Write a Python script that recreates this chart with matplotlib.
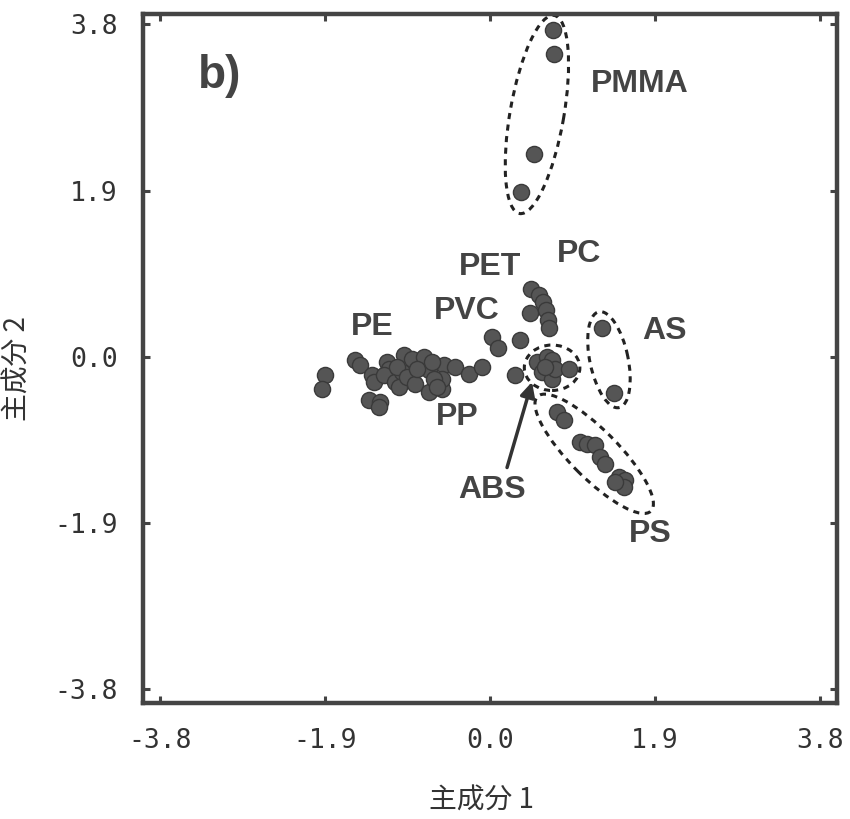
import matplotlib
matplotlib.use("Agg")
import matplotlib.pyplot as plt
from matplotlib.patches import Ellipse

plt.rcParams['font.family'] = ['Liberation Sans', 'Noto Sans CJK JP', 'DejaVu Sans']

# ---- data (principal component scores) ----
pmma_x = [0.727, 0.738, 0.507, 0.358]
pmma_y = [3.74, 3.46, 2.32, 1.88]

pc_x = [0.473, 0.565, 0.611, 0.646, 0.669, 0.680]
pc_y = [0.78, 0.71, 0.63, 0.54, 0.42, 0.33]

pet_x = [0.461]
pet_y = [0.50]

pvc_x = [0.023, 0.092, 0.346]
pvc_y = [0.23, 0.10, 0.19]

pe_x = [-1.557, -1.499, -1.903, -1.938, -1.361, -1.338, -1.188, -1.165, -0.992,
        -0.900, -0.761, -1.223, -1.096, -1.015, -1.050, -1.396, -1.269, -1.280,
        -1.073, -0.957]
pe_y = [-0.034, -0.092, -0.206, -0.367, -0.206, -0.287, -0.057, -0.138, 0.023,
        -0.023, 0.0, -0.206, -0.287, -0.172, -0.344, -0.493, -0.516, -0.573,
        -0.115, -0.229]

pp_x = [-0.865, -0.704, -0.554, -0.531, -0.554, -0.404, -0.242, -0.092, -0.704,
        -0.646, -0.842, -0.669, -0.611, 0.288]
pp_y = [-0.310, -0.401, -0.367, -0.092, -0.252, -0.115, -0.195, -0.115, -0.149,
        -0.252, -0.138, -0.057, -0.344, -0.206]

abs_x = [0.542, 0.657, 0.715, 0.600, 0.715, 0.750, 0.911, 0.634]
abs_y = [-0.057, 0.0, -0.034, -0.172, -0.252, -0.138, -0.138, -0.115]

as_x = [1.292, 1.430]
as_y = [0.333, -0.413]

ps_x = [0.773, 0.854, 1.038, 1.119, 1.211, 1.269, 1.326, 1.488, 1.557, 1.546, 1.442]
ps_y = [-0.631, -0.722, -0.975, -0.998, -1.009, -1.147, -1.227, -1.376, -1.411, -1.491, -1.433]

ticks = [-3.8, -1.9, 0.0, 1.9, 3.8]
tick_labels = ["-3.8", "-1.9", "0.0", "1.9", "3.8"]

labels = ["PMMA", "PC", "PET", "PVC", "PE", "AS", "PP", "ABS", "PS"]
label_x = [1.73, 1.03, 0.0, -0.265, -1.36, 2.01, -0.38, 0.023, 1.845]
label_y = [3.12, 1.18, 1.03, 0.52, 0.34, 0.29, -0.69, -1.525, -2.03]

# ---- figure ----
fig = plt.figure(figsize=(8.5, 8.19), dpi=100)
ax = fig.add_axes([0.168, 0.1416, 0.817, 0.8414])

all_x = pmma_x + pc_x + pet_x + pvc_x + pe_x + pp_x + abs_x + as_x + ps_x
all_y = pmma_y + pc_y + pet_y + pvc_y + pe_y + pp_y + abs_y + as_y + ps_y
ax.scatter(all_x, all_y, s=135, c='#555555', edgecolors='#3a3a3a',
           linewidths=1.0, zorder=3)

ell_style = dict(fill=False, edgecolor='#222222', linewidth=2.2,
                 linestyle=(0, (2.0, 1.8)), zorder=2)
ax.add_patch(Ellipse((0.54, 2.77), 2.3, 0.62, angle=80, **ell_style))
ax.add_patch(Ellipse((0.715, -0.126), 0.64, 0.52, angle=0, **ell_style))
ax.add_patch(Ellipse((1.37, -0.034), 1.12, 0.44, angle=102, **ell_style))
ax.add_patch(Ellipse((1.20, -1.11), 1.85, 0.55, angle=-45, **ell_style))

for t, x, y in zip(labels, label_x, label_y):
    ax.text(x, y, t, ha='center', va='center', fontsize=23, fontweight='bold',
            color='#444444', zorder=4)

ax.text(-3.11, 3.21, "b)", ha='center', va='center', fontsize=33,
        fontweight='bold', color='#444444')

ax.annotate("", xy=(0.484, -0.288), xytext=(0.196, -1.267),
            arrowprops=dict(arrowstyle='-|>', color='#333333', lw=2.5,
                            mutation_scale=22, shrinkA=0, shrinkB=0))

ax.set_xlim(-4.0, 4.0)
ax.set_ylim(-3.96, 3.92)
ax.set_xticks(ticks)
ax.set_yticks(ticks)
ax.set_xticklabels(tick_labels, family='DejaVu Sans Mono', fontsize=19, color='#333333')
ax.set_yticklabels(tick_labels, family='DejaVu Sans Mono', fontsize=19, color='#333333')
ax.tick_params(direction='in', length=5, width=2.2, color='#444444',
               top=True, right=True, pad=18)

for sp in ax.spines.values():
    sp.set_linewidth(3.2)
    sp.set_color('#444444')

ax.set_xlabel("主成分 1", family=['Noto Sans CJK JP', 'DejaVu Sans'],
              fontsize=20, color='#333333')
ax.set_ylabel("主成分 2", family=['Noto Sans CJK JP', 'DejaVu Sans'],
              fontsize=20, color='#333333')
ax.xaxis.set_label_coords(0.487, -0.12)
ax.yaxis.set_label_coords(-0.158, 0.486)

fig.savefig("out.png", dpi=100)
